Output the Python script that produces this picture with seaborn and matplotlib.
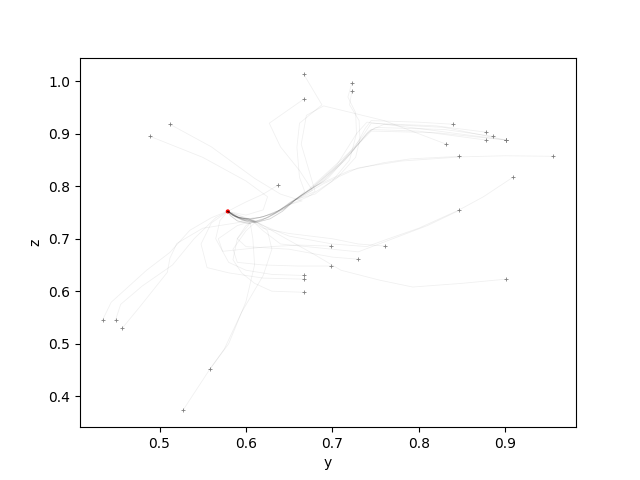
import pandas as pd
import matplotlib
matplotlib.use('Agg')
import matplotlib.pyplot as plt
import seaborn as sns

# a few versions of the hook that curls into the red point
hooks = [
    ([0.660, 0.645, 0.625, 0.610, 0.595, 0.585, 0.579], [0.778, 0.758, 0.740, 0.733, 0.737, 0.745, 0.752]),
    ([0.655, 0.640, 0.620, 0.605, 0.592, 0.583, 0.579], [0.772, 0.755, 0.742, 0.737, 0.740, 0.746, 0.752]),
    ([0.652, 0.635, 0.618, 0.603, 0.590, 0.582, 0.579], [0.770, 0.750, 0.735, 0.729, 0.734, 0.744, 0.752]),
    ([0.658, 0.642, 0.628, 0.612, 0.596, 0.585, 0.579], [0.775, 0.752, 0.738, 0.731, 0.735, 0.744, 0.752]),
    ([0.650, 0.632, 0.615, 0.600, 0.588, 0.580], [0.765, 0.748, 0.740, 0.738, 0.742, 0.752]),
]

# paths that go through the hook (start point first)
hook_paths = [
    ([0.667, 0.688, 0.662, 0.659, 0.662, 0.668], [1.013, 0.955, 0.920, 0.874, 0.817, 0.790]),
    ([0.667, 0.627, 0.640, 0.662, 0.677], [0.966, 0.920, 0.875, 0.830, 0.792]),
    ([0.832, 0.760, 0.690, 0.670, 0.664, 0.673, 0.680], [0.880, 0.925, 0.953, 0.935, 0.880, 0.830, 0.790]),
    ([0.7226, 0.718, 0.727, 0.728, 0.720, 0.700, 0.680], [0.996, 0.970, 0.940, 0.900, 0.850, 0.810, 0.785]),
    ([0.7226, 0.720, 0.731, 0.732, 0.727, 0.705, 0.672], [0.981, 0.955, 0.925, 0.890, 0.855, 0.815, 0.780]),
    ([0.840, 0.800, 0.745, 0.738, 0.725, 0.700, 0.675], [0.918, 0.922, 0.925, 0.910, 0.870, 0.830, 0.795]),
    ([0.878, 0.820, 0.745, 0.735, 0.710, 0.680], [0.903, 0.915, 0.920, 0.895, 0.845, 0.800]),
    ([0.886, 0.830, 0.750, 0.740, 0.720, 0.690], [0.895, 0.908, 0.912, 0.900, 0.860, 0.810]),
    ([0.878, 0.800, 0.745, 0.735, 0.715, 0.685], [0.888, 0.905, 0.908, 0.890, 0.850, 0.805]),
    ([0.901, 0.820, 0.745, 0.730, 0.700, 0.670], [0.888, 0.902, 0.905, 0.880, 0.835, 0.790]),
    ([0.901, 0.800, 0.740, 0.728, 0.705, 0.675], [0.888, 0.910, 0.922, 0.900, 0.840, 0.795]),
    ([0.901, 0.830, 0.760, 0.742, 0.722, 0.695], [0.888, 0.912, 0.918, 0.905, 0.865, 0.815]),
    ([0.847, 0.790, 0.760, 0.720, 0.680], [0.857, 0.852, 0.845, 0.830, 0.800]),
    ([0.956, 0.900, 0.850, 0.780, 0.730, 0.690], [0.857, 0.858, 0.856, 0.848, 0.835, 0.805]),
    ([0.512, 0.560, 0.610, 0.640, 0.665], [0.918, 0.875, 0.815, 0.785, 0.772]),
]

# paths that reach the red point another way
other_paths = [
    ([0.489, 0.550, 0.600, 0.625, 0.620, 0.600, 0.579], [0.895, 0.855, 0.810, 0.780, 0.755, 0.745, 0.752]),
    ([0.909, 0.875, 0.847, 0.800, 0.765, 0.740, 0.700, 0.650, 0.620, 0.600, 0.579],
     [0.817, 0.780, 0.755, 0.720, 0.700, 0.685, 0.690, 0.705, 0.725, 0.740, 0.752]),
    ([0.847, 0.810, 0.770, 0.730, 0.700, 0.640, 0.620, 0.608, 0.590, 0.579],
     [0.754, 0.725, 0.700, 0.675, 0.680, 0.690, 0.715, 0.733, 0.740, 0.752]),
    ([0.698, 0.660, 0.620, 0.573, 0.568, 0.590, 0.610, 0.590, 0.579],
     [0.686, 0.688, 0.684, 0.676, 0.700, 0.725, 0.735, 0.742, 0.752]),
    ([0.761, 0.730, 0.700, 0.650, 0.620, 0.608, 0.590, 0.579],
     [0.686, 0.690, 0.700, 0.710, 0.720, 0.733, 0.742, 0.752]),
    ([0.730, 0.700, 0.650, 0.600, 0.590, 0.600, 0.610, 0.590, 0.579],
     [0.661, 0.665, 0.680, 0.685, 0.700, 0.725, 0.735, 0.742, 0.752]),
    ([0.434, 0.444, 0.485, 0.512, 0.535, 0.560, 0.575, 0.579],
     [0.545, 0.579, 0.640, 0.674, 0.716, 0.740, 0.750, 0.752]),
    ([0.449, 0.455, 0.480, 0.515, 0.540, 0.565, 0.579],
     [0.545, 0.575, 0.610, 0.650, 0.700, 0.740, 0.752]),
    ([0.457, 0.477, 0.509, 0.512, 0.520, 0.550, 0.600, 0.590, 0.579],
     [0.530, 0.570, 0.636, 0.663, 0.691, 0.720, 0.733, 0.742, 0.752]),
    ([0.527, 0.558, 0.575, 0.595, 0.620, 0.630, 0.625, 0.612, 0.592, 0.579],
     [0.373, 0.451, 0.490, 0.560, 0.630, 0.680, 0.715, 0.733, 0.740, 0.752]),
    ([0.558, 0.580, 0.600, 0.610, 0.608, 0.605, 0.590, 0.579],
     [0.451, 0.500, 0.580, 0.650, 0.700, 0.730, 0.742, 0.752]),
    ([0.667, 0.630, 0.600, 0.580, 0.565, 0.570, 0.579], [0.630, 0.632, 0.640, 0.655, 0.700, 0.735, 0.752]),
    ([0.667, 0.620, 0.580, 0.555, 0.548, 0.560, 0.579], [0.623, 0.625, 0.635, 0.645, 0.690, 0.730, 0.752]),
    ([0.667, 0.630, 0.610, 0.595, 0.585, 0.590, 0.605, 0.590, 0.579],
     [0.598, 0.600, 0.615, 0.635, 0.660, 0.700, 0.730, 0.742, 0.752]),
    ([0.698, 0.660, 0.620, 0.590, 0.585, 0.600, 0.612, 0.592, 0.579],
     [0.648, 0.648, 0.650, 0.655, 0.680, 0.715, 0.733, 0.740, 0.752]),
    ([0.901, 0.850, 0.793, 0.755, 0.710, 0.677, 0.639, 0.615, 0.595, 0.579],
     [0.623, 0.615, 0.608, 0.621, 0.640, 0.672, 0.707, 0.730, 0.742, 0.752]),
    ([0.637, 0.620, 0.600, 0.588, 0.579], [0.802, 0.785, 0.770, 0.760, 0.752]),
]

final_y = [0.579]
final_z = [0.752]

rows = []
k = 0
for n, (py, pz) in enumerate(hook_paths):
    hy, hz = hooks[n % len(hooks)]
    ys = py + hy
    zs = pz + hz
    for i in range(len(ys)):
        rows.append({'traj': k, 'step': i, 'y': ys[i], 'z': zs[i]})
    k += 1
for py, pz in other_paths:
    for i in range(len(py)):
        rows.append({'traj': k, 'step': i, 'y': py[i], 'z': pz[i]})
    k += 1
df = pd.DataFrame(rows)
starts = df[df['step'] == 0]

fig, ax = plt.subplots(figsize=(6.4, 4.8), dpi=100)
sns.lineplot(data=df, x='y', y='z', units='traj', estimator=None, sort=False,
             color='k', alpha=0.06, linewidth=0.6, ax=ax)
sns.scatterplot(data=starts, x='y', y='z', marker='+', s=6, color='0.5',
                linewidth=0.6, ax=ax)
sns.scatterplot(x=final_y, y=final_z, color='red', s=9, edgecolor='none', ax=ax)
ax.set_xlabel('y')
ax.set_ylabel('z')
fig.savefig('out.png')
